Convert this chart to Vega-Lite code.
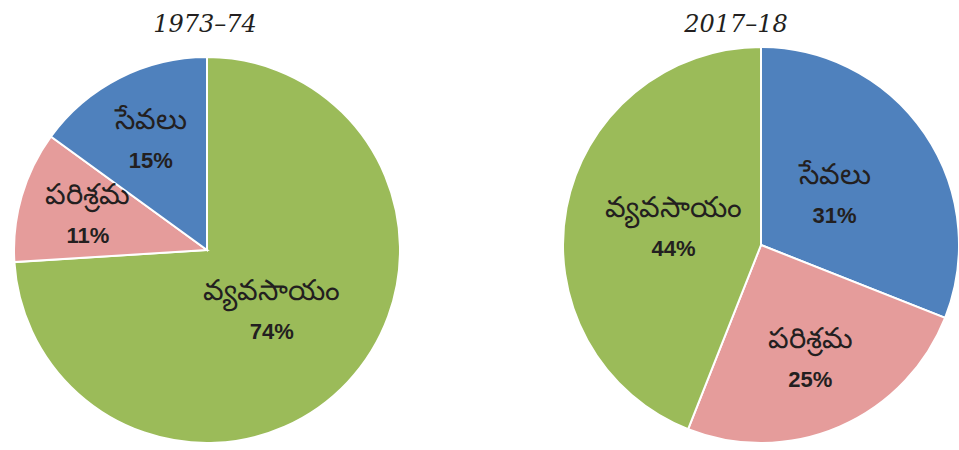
{
  "$schema": "https://vega.github.io/schema/vega-lite/v6.json",
  "width": 959,
  "height": 450,
  "padding": 0,
  "autosize": {"type": "none"},
  "background": "white",
  "config": {"view": {"stroke": null}},
  "data": {
    "values": [
      {"year": "1973–74", "sector": "వ్యవసాయం", "value": 0.74, "order": 1},
      {"year": "1973–74", "sector": "పరిశ్రమ", "value": 0.11, "order": 2},
      {"year": "1973–74", "sector": "సేవలు", "value": 0.15, "order": 3},
      {"year": "2017–18", "sector": "సేవలు", "value": 0.31, "order": 1},
      {"year": "2017–18", "sector": "పరిశ్రమ", "value": 0.25, "order": 2},
      {"year": "2017–18", "sector": "వ్యవసాయం", "value": 0.44, "order": 3}
    ]
  },
  "resolve": {"scale": {"x": "independent", "y": "independent", "radius": "independent"}},
  "layer": [
    {
      "mark": {"type": "arc", "stroke": "white", "strokeWidth": 2},
      "encoding": {
        "x": {"field": "year", "type": "nominal", "axis": null, "scale": {"type": "point", "range": [207, 761], "padding": 0}},
        "y": {"field": "year", "type": "nominal", "axis": null, "scale": {"type": "point", "range": [250, 245], "padding": 0}},
        "theta": {"field": "value", "type": "quantitative", "stack": "normalize"},
        "radius": {"field": "year", "type": "nominal", "legend": null, "scale": {"type": "point", "range": [193, 198], "padding": 0}},
        "radius2": {"value": 0},
        "order": {"field": "order", "type": "quantitative"},
        "color": {"field": "sector", "type": "nominal", "legend": null,
          "scale": {"domain": ["వ్యవసాయం", "పరిశ్రమ", "సేవలు"], "range": ["#9bbb59", "#e59c9b", "#4f81bd"]}}
      }
    },
    {
      "mark": {"type": "text", "dy": -20, "fontSize": 29, "font": "Noto Sans", "color": "#231f20", "align": "center", "baseline": "middle"},
      "encoding": {
        "x": {"field": "year", "type": "nominal", "axis": null, "scale": {"type": "point", "range": [207, 761], "padding": 0}},
        "y": {"field": "year", "type": "nominal", "axis": null, "scale": {"type": "point", "range": [250, 245], "padding": 0}},
        "theta": {"field": "value", "type": "quantitative", "stack": "normalize"},
        "radius": {"field": "year", "type": "nominal", "legend": null, "scale": {"type": "point", "range": [124, 124], "padding": 0}},
        "order": {"field": "order", "type": "quantitative"},
        "detail": {"field": "sector"},
        "text": {"condition": {"test": "(datum.year === '1973–74' && datum.order !== 1) || (datum.year === '2017–18' && datum.order === 2)", "field": "sector"}, "value": ""}
      }
    },
    {
      "mark": {"type": "text", "dy": -20, "fontSize": 29, "font": "Noto Sans", "color": "#231f20", "align": "center", "baseline": "middle"},
      "encoding": {
        "x": {"field": "year", "type": "nominal", "axis": null, "scale": {"type": "point", "range": [207, 761], "padding": 0}},
        "y": {"field": "year", "type": "nominal", "axis": null, "scale": {"type": "point", "range": [250, 245], "padding": 0}},
        "theta": {"field": "value", "type": "quantitative", "stack": "normalize"},
        "radius": {"field": "year", "type": "nominal", "legend": null, "scale": {"type": "point", "range": [89, 89], "padding": 0}},
        "order": {"field": "order", "type": "quantitative"},
        "detail": {"field": "sector"},
        "text": {"condition": {"test": "(datum.year === '1973–74' && datum.order === 1) || (datum.year === '2017–18' && datum.order !== 2)", "field": "sector"}, "value": ""}
      }
    },
    {
      "mark": {"type": "text", "dy": 21, "fontSize": 22, "fontWeight": "bold", "font": "Liberation Sans", "color": "#231f20", "align": "center", "baseline": "middle"},
      "encoding": {
        "x": {"field": "year", "type": "nominal", "axis": null, "scale": {"type": "point", "range": [207, 761], "padding": 0}},
        "y": {"field": "year", "type": "nominal", "axis": null, "scale": {"type": "point", "range": [250, 245], "padding": 0}},
        "theta": {"field": "value", "type": "quantitative", "stack": "normalize"},
        "radius": {"field": "year", "type": "nominal", "legend": null, "scale": {"type": "point", "range": [124, 124], "padding": 0}},
        "order": {"field": "order", "type": "quantitative"},
        "detail": {"field": "sector"},
        "text": {"condition": {"test": "(datum.year === '1973–74' && datum.order !== 1) || (datum.year === '2017–18' && datum.order === 2)", "field": "value", "type": "quantitative", "format": ".0%"}, "value": ""}
      }
    },
    {
      "mark": {"type": "text", "dy": 21, "fontSize": 22, "fontWeight": "bold", "font": "Liberation Sans", "color": "#231f20", "align": "center", "baseline": "middle"},
      "encoding": {
        "x": {"field": "year", "type": "nominal", "axis": null, "scale": {"type": "point", "range": [207, 761], "padding": 0}},
        "y": {"field": "year", "type": "nominal", "axis": null, "scale": {"type": "point", "range": [250, 245], "padding": 0}},
        "theta": {"field": "value", "type": "quantitative", "stack": "normalize"},
        "radius": {"field": "year", "type": "nominal", "legend": null, "scale": {"type": "point", "range": [89, 89], "padding": 0}},
        "order": {"field": "order", "type": "quantitative"},
        "detail": {"field": "sector"},
        "text": {"condition": {"test": "(datum.year === '1973–74' && datum.order === 1) || (datum.year === '2017–18' && datum.order !== 2)", "field": "value", "type": "quantitative", "format": ".0%"}, "value": ""}
      }
    },
    {
      "data": {"values": [{"year": "1973–74"}, {"year": "2017–18"}]},
      "mark": {"type": "text", "fontSize": 24, "font": "DejaVu Serif", "fontStyle": "italic", "color": "#231f20", "align": "center", "baseline": "alphabetic"},
      "encoding": {
        "x": {"field": "year", "type": "nominal", "axis": null, "scale": {"type": "point", "range": [205, 736], "padding": 0}},
        "y": {"field": "year", "type": "nominal", "axis": null, "scale": {"type": "point", "range": [32, 32], "padding": 0}},
        "text": {"field": "year"}
      }
    }
  ]
}
